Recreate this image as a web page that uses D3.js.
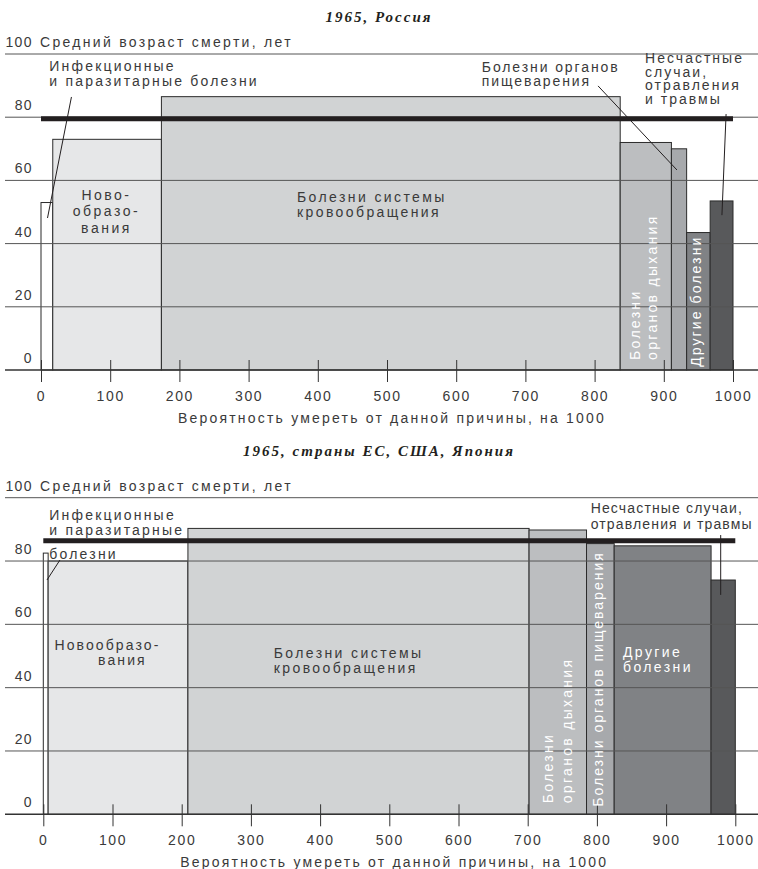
<!DOCTYPE html>
<html>
<head>
<meta charset="utf-8">
<script src="https://cdn.jsdelivr.net/npm/d3@7"></script>
<style>
  html, body { margin: 0; padding: 0; background: #fff; }
  svg { display: block; }
  text { font-family: "Liberation Sans", Arial, Helvetica, sans-serif; }
</style>
</head>
<body>
<script>
// ---------- DATA ----------
const causes = [
  "Инфекционные и паразитарные болезни",
  "Новообразования",
  "Болезни системы кровообращения",
  "Болезни органов дыхания",
  "Болезни органов пищеварения",
  "Другие болезни",
  "Несчастные случаи, отравления и травмы"
];
// probability of dying from the cause, per 1000 (bar widths)
const russiaProb = [17, 157, 663, 74, 22, 34, 33];
// average age of death, years (bar heights)
const russiaAge  = [53, 73, 86.5, 72, 70, 43.5, 53.5];
const russiaMean = 79.5;

const westProb = [7, 202, 493, 83, 40, 140, 35];
const westAge  = [82.5, 80, 90.3, 89.8, 85.5, 84.8, 74];
const westMean = 86.4;

const xTicks = [0, 100, 200, 300, 400, 500, 600, 700, 800, 900, 1000];
const yTicks = [0, 20, 40, 60, 80, 100];

const titles = ["1965, Россия", "1965, страны ЕС, США, Япония"];
const yAxisTitle = "Средний возраст смерти, лет";
const xAxisTitle = "Вероятность умереть от данной причины, на 1000";

// ---------- STYLE ----------
const fills = ["#ffffff", "#e6e7e8", "#d1d3d4", "#bcbec0", "#a7a9ac", "#808285", "#58595b"];
const textColor = "#3a3a3a";
const W = 758, H = 869;

const svg = d3.select("body").append("svg").attr("width", W).attr("height", H);

function drawPanel(o) {
  const x = d3.scaleLinear().domain([0, 1000]).range(o.xRange);
  const y = d3.scaleLinear().domain([0, 100]).range(o.yRange);
  const g = svg.append("g");

  // title
  g.append("text")
    .attr("x", 379).attr("y", o.titleY)
    .attr("text-anchor", "middle")
    .style("font-family", "'Liberation Serif', 'DejaVu Serif', serif")
    .style("font-style", "italic").style("font-weight", "bold")
    .style("font-size", "15px").style("letter-spacing", "2px")
    .attr("fill", "#231f20")
    .text(o.title);

  // bars (Marimekko style: width = probability, height = age)
  const cum = d3.cumsum(o.prob);
  const bars = o.prob.map((p, i) => ({ i, start: cum[i] - p, end: cum[i], age: o.age[i] }));
  g.selectAll("rect.bar").data(bars).join("rect")
    .attr("class", "bar")
    .attr("x", d => x(d.start))
    .attr("width", d => x(d.end) - x(d.start))
    .attr("y", d => y(d.age))
    .attr("height", d => y(0) - y(d.age))
    .attr("fill", d => fills[d.i])
    .attr("stroke", "#2b2b2b").attr("stroke-width", 1);

  // horizontal gridlines
  g.selectAll("line.grid").data(yTicks).join("line")
    .attr("class", "grid")
    .attr("x1", 5).attr("x2", W)
    .attr("y1", d => y(d)).attr("y2", d => y(d))
    .attr("stroke", d => d === 0 ? "#333" : "#555")
    .attr("stroke-width", d => d === 0 ? 1.6 : 1);

  // y tick labels
  g.selectAll("text.ytick").data(yTicks).join("text")
    .attr("class", "ytick")
    .attr("x", 33).attr("y", d => y(d) - 7)
    .attr("text-anchor", "end")
    .style("font-size", "14px").style("letter-spacing", "1.4px")
    .attr("fill", textColor)
    .text(d => d);
  g.append("text")
    .attr("x", 40).attr("y", y(100) - 7)
    .style("font-size", "14px").style("letter-spacing", "2.3px")
    .attr("fill", textColor)
    .text(yAxisTitle);

  // mean line
  g.append("line")
    .attr("x1", x(0)).attr("x2", x(1000))
    .attr("y1", y(o.mean)).attr("y2", y(o.mean))
    .attr("stroke", "#231f20").attr("stroke-width", 5);

  // x axis
  const axis = d3.axisBottom(x).tickValues(xTicks).tickFormat(d3.format("d")).tickSize(12).tickPadding(0);
  const ax = g.append("g").attr("transform", `translate(0,${y(0)})`).call(axis);
  ax.select(".domain").remove();
  ax.selectAll(".tick line").attr("y1", -10).attr("y2", 12).attr("stroke", "#333").attr("stroke-width", 1);
  ax.selectAll(".tick text")
    .attr("y", 31).attr("dy", 0)
    .style("font-family", "'Liberation Sans', Arial, sans-serif")
    .style("font-size", "14px").style("letter-spacing", "1.6px")
    .attr("fill", textColor);
  g.append("text")
    .attr("x", x(500) + 5).attr("y", y(0) + 53)
    .attr("text-anchor", "middle")
    .style("font-size", "14px").style("letter-spacing", "2.2px")
    .attr("fill", textColor)
    .text(xAxisTitle);

  // annotations
  o.labels.forEach(l => {
    const t = g.append("text")
      .attr("fill", l.color || textColor)
      .attr("text-anchor", l.anchor || "start")
      .style("font-size", "14px").style("letter-spacing", (l.ls || 2.2) + "px");
    if (l.rotate) {
      t.attr("transform", `translate(${x(l.x)},${y(l.y)}) rotate(-90)`).text(l.lines[0]);
    } else {
      l.lines.forEach((line, k) => {
        t.append("tspan")
          .attr("x", l.xs ? x(l.xs[k]) : x(l.x))
          .attr("y", y(l.y) + (l.dys ? l.dys[k] : k * (l.lh || 15)))
          .text(line);
      });
    }
  });
  o.leaders.forEach(p => {
    g.append("line")
      .attr("x1", x(p[0])).attr("y1", y(p[1]))
      .attr("x2", x(p[2])).attr("y2", y(p[3]))
      .attr("stroke", "#231f20").attr("stroke-width", 1);
  });
}

// Russia
drawPanel({
  title: titles[0], titleY: 22,
  xRange: [41, 733], yRange: [370, 54],
  prob: russiaProb, age: russiaAge, mean: russiaMean,
  labels: [
    { x: 12, y: 94.6, lines: ["Инфекционные", "и паразитарные болезни"], lh: 15 },
    { x: 94.6, y: 53.8, anchor: "middle", lines: ["Ново-", "образо-", "вания"], lh: 16.5, ls: 2.5 },
    { x: 370, y: 53.3, lines: ["Болезни системы", "кровообращения"], lh: 15, ls: 2.4 },
    { x: 637, y: 94.2, lines: ["Болезни органов", "пищеварения"], lh: 14, ls: 1.9 },
    { x: 873, y: 97.2, lines: ["Несчастные", "случаи,", "отравления", "и травмы"], lh: 13.7, ls: 2.0 },
    { x: 865.6, y: 3.2, rotate: true, color: "#fff", lines: ["Болезни"], ls: 2.3 },
    { x: 889.7, y: 3.2, rotate: true, color: "#fff", lines: ["органов дыхания"], ls: 2.3 },
    { x: 953.8, y: 1, rotate: true, color: "#fff", lines: ["Другие болезни"], ls: 2.1 }
  ],
  leaders: [
    [44, 86.4, 9.4, 48.1],
    [805, 89.9, 919, 63.3],
    [990, 81, 984, 49]
  ]
});

// EU, USA, Japan
drawPanel({
  title: titles[1], titleY: 456,
  xRange: [43.3, 735.3], yRange: [814.3, 497.7],
  prob: westProb, age: westAge, mean: westMean,
  labels: [
    { x: 8.7, y: 93, lines: ["Инфекционные", "и паразитарные", "болезни"], dys: [0, 15, 39] },
    { x: 92.7, xs: [92.7, 114.3], y: 51.9, anchor: "middle", lines: ["Новообразо-", "вания"], lh: 15.5, ls: 2.1 },
    { x: 333, y: 49.5, lines: ["Болезни системы", "кровообращения"], lh: 15, ls: 2.4 },
    { x: 837.7, y: 49.7, color: "#fff", lines: ["Другие", "болезни"], lh: 15, ls: 2.4 },
    { x: 791, y: 95.2, lines: ["Несчастные случаи,", "отравления и травмы"], lh: 16, ls: 1.15 },
    { x: 737, y: 3.5, rotate: true, color: "#fff", lines: ["Болезни"], ls: 2.3 },
    { x: 763.6, y: 3.5, rotate: true, color: "#fff", lines: ["органов дыхания"], ls: 2.3 },
    { x: 809, y: 2.4, rotate: true, color: "#fff", lines: ["Болезни органов пищеварения"], ls: 2.0 }
  ],
  leaders: [
    [24, 80.3, 5.3, 74],
    [978.9, 88.2, 978.9, 69.3]
  ]
});
</script>
</body>
</html>
